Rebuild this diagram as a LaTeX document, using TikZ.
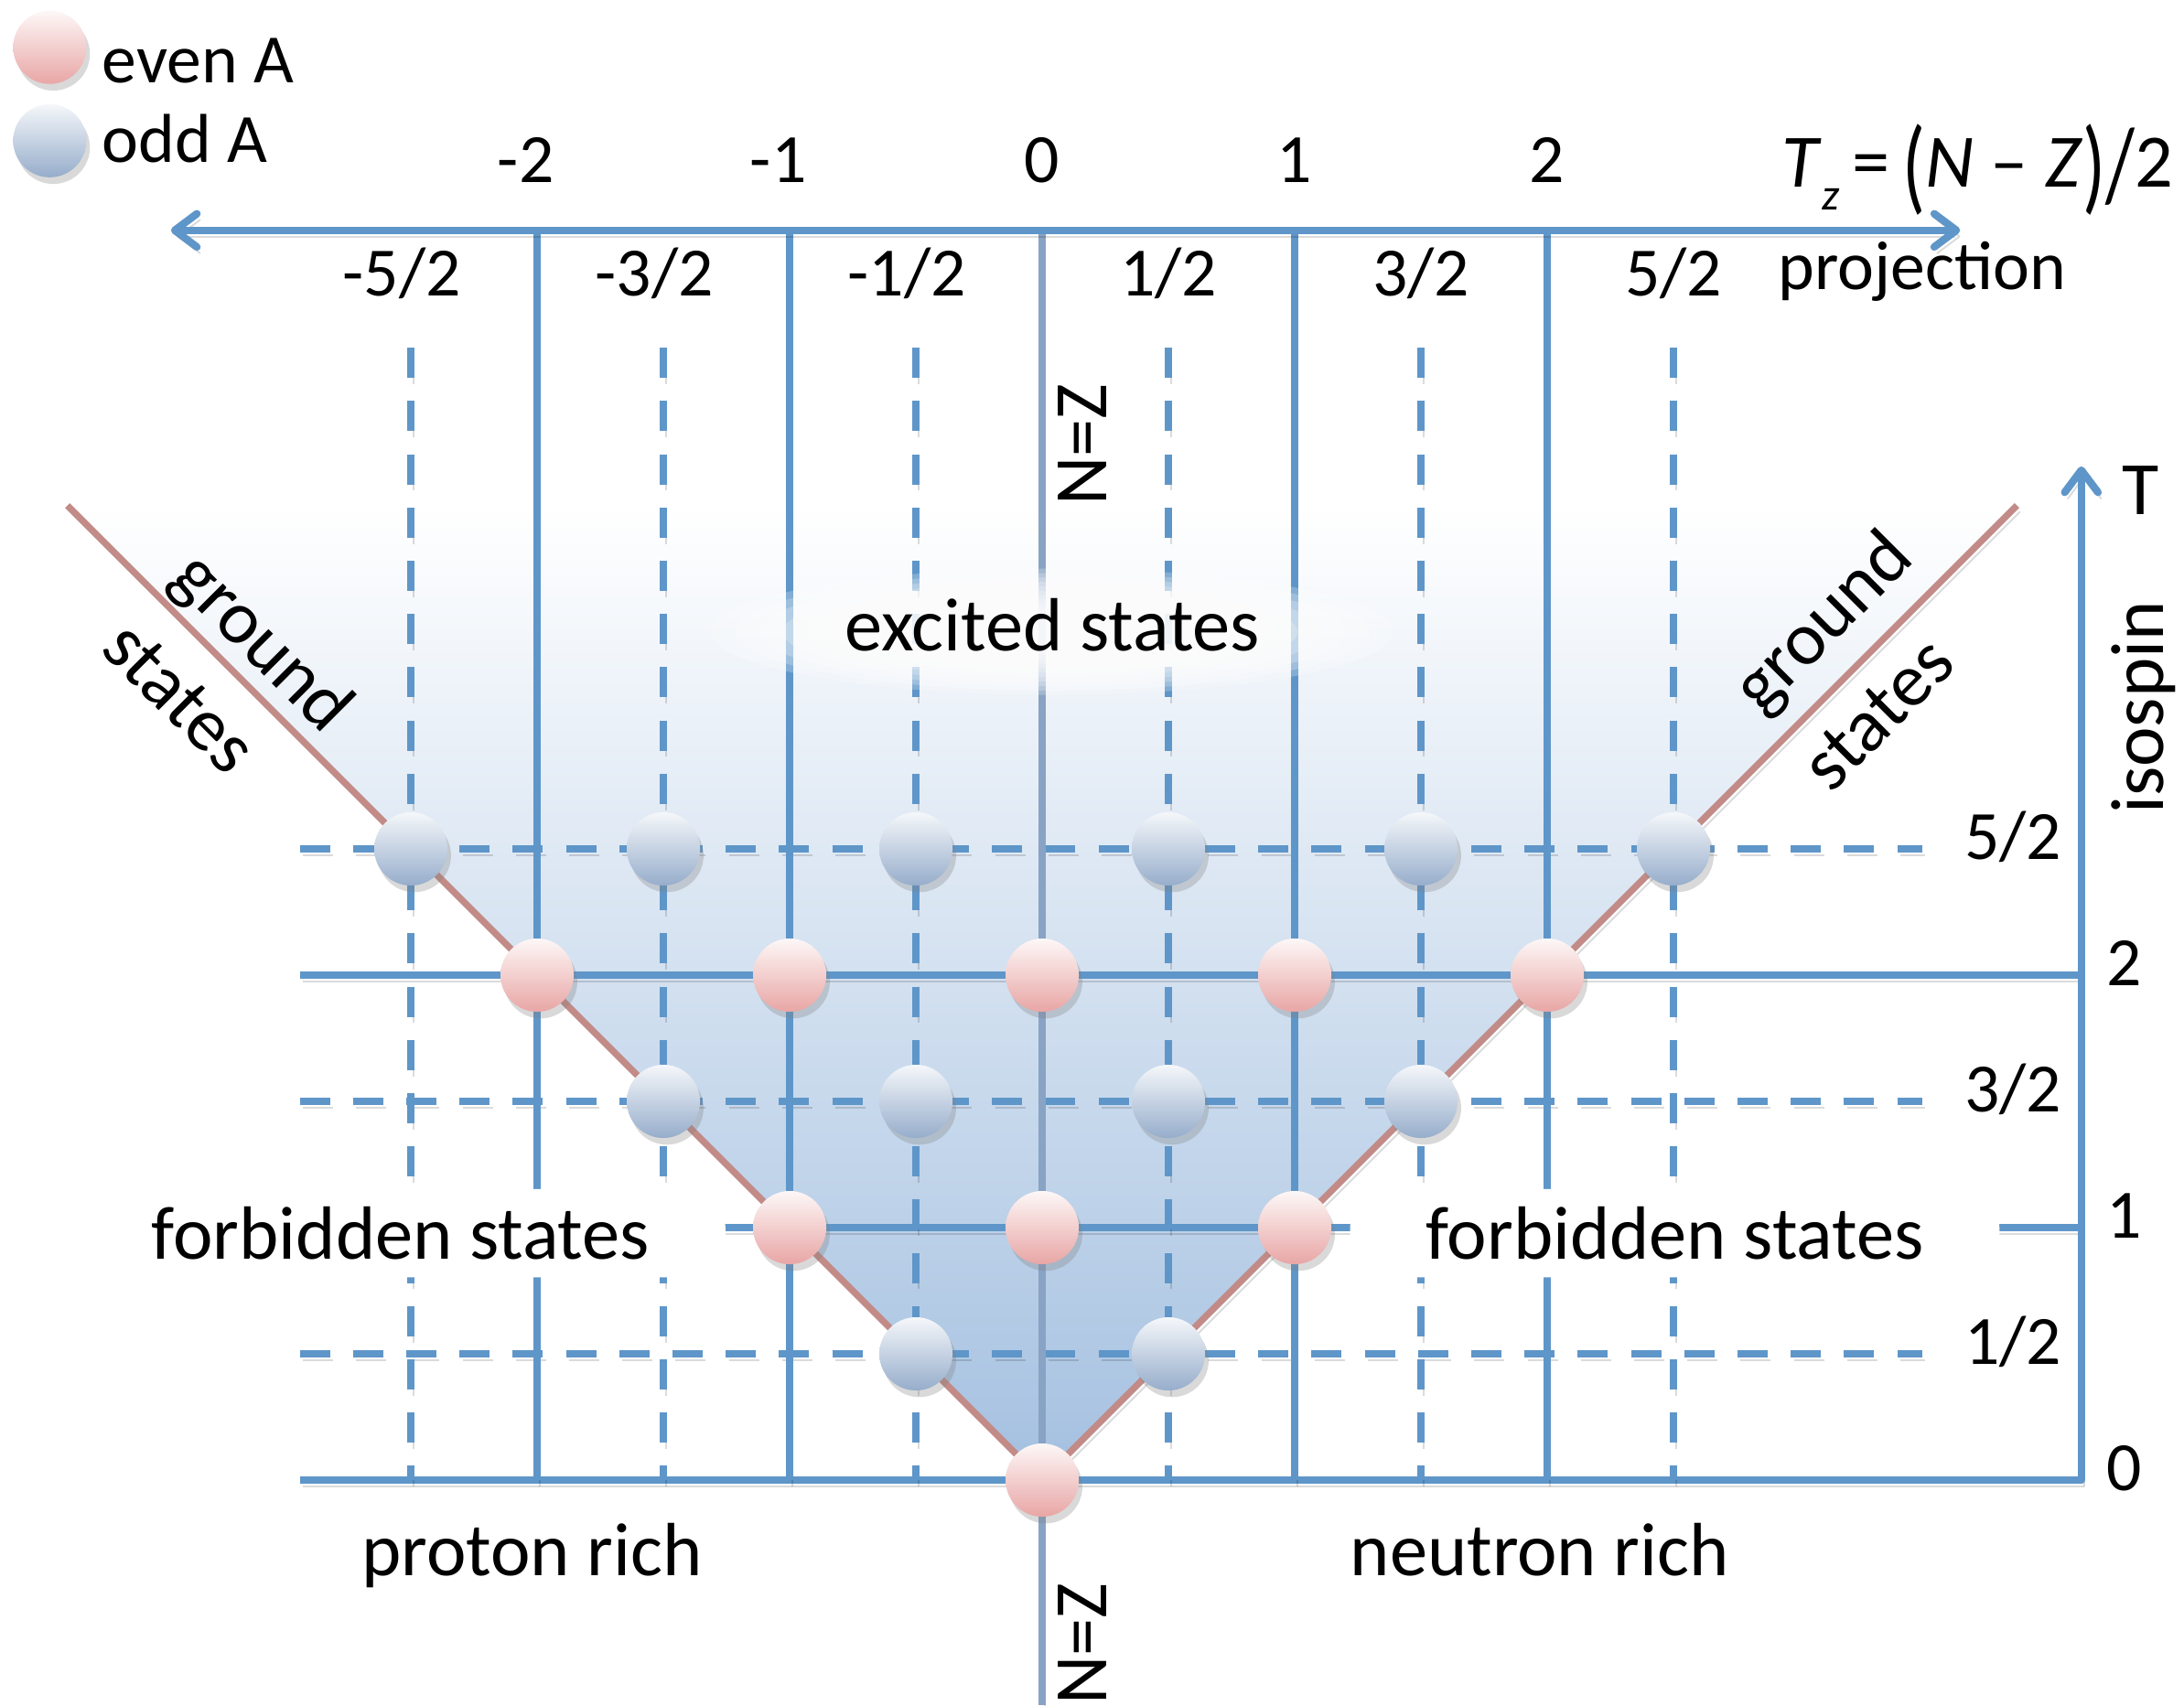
\documentclass[tikz,border=0pt]{standalone}
\usepackage{fontspec}
\setmainfont{Carlito}
\usepackage{graphicx}
\usetikzlibrary{arrows.meta, positioning, shadows}
\definecolor{gridblue}{HTML}{5F96C9}
\definecolor{nzblue}{HTML}{89A3C4}
\definecolor{gsred}{HTML}{C28B87}
\definecolor{wedgebg}{HTML}{A4C0E0}
\definecolor{evenlo}{HTML}{E8A6A5}
\definecolor{evenhi}{HTML}{FDF7F7}
\definecolor{oddlo}{HTML}{96ADCB}
\definecolor{oddhi}{HTML}{F5F7FA}
\tikzset{
  labl/.style={font=\fontsize{17}{20}\selectfont, inner sep=0pt, anchor=base},
  numlbl/.style={labl, font=\fontsize{15.6}{18}\selectfont},
  lnshadow/.style={preaction={draw=black, opacity=0.14,
                   transform canvas={xshift=0.7pt, yshift=-1.4pt}, #1}},
  lnshadow/.default={},
  gridln/.style={draw=gridblue, line width=1.7pt, lnshadow},
  griddash/.style={draw=gridblue, line width=1.7pt,
                   dash pattern=on 6.8pt off 5.2pt,
                   lnshadow={dash pattern=on 6.8pt off 5.2pt}},
  nzline/.style={draw=nzblue, line width=1.7pt, lnshadow},
  gsline/.style={draw=gsred, line width=1.5pt, lnshadow},
  axarr/.style={draw=gridblue, line width=1.7pt, line cap=round, lnshadow},
  ball/.style={circle, minimum size=0.58cm, inner sep=0pt,
               drop shadow={opacity=0.3, shadow xshift=0.8pt, shadow yshift=-1.5pt}},
  evenball/.style={ball, top color=evenhi, bottom color=evenlo},
  oddball/.style={ball, top color=oddhi, bottom color=oddlo},
  blob/.style={labl, fill=white, rounded corners=9pt,
               inner xsep=0.6cm, inner ysep=0.14cm},
}

\begin{document}
\begin{tikzpicture}
  \useasboundingbox (-8.254,-1.783) rectangle (9.043,11.725);

  %% Wedge between the ground-state lines
  \shade[top color=white, bottom color=wedgebg]
    (0,0) -- (-7.72,7.72) -- (7.72,7.72) -- cycle;

  %% Rows: integer T solid, half-integer T dashed
  \foreach \t in {0,2,4}
    \draw[gridln] (-5.88,\t) -- (8.23,\t);
  \foreach \t in {1,3,5}
    \draw[griddash] (-5.88,\t) -- (6.97,\t);

  %% Columns: T_z
  \foreach \z in {-4,-2,2,4}
    \draw[gridln] (\z,9.9) -- (\z,0);
  \foreach \z in {-5,-3,-1,1,3,5}
    \draw[griddash] (\z,8.97) -- (\z,0);
  \draw[nzline] (0,9.9) -- (0,-1.783);

  %% Ground-state lines
  \draw[gsline] (-7.72,7.72) -- (0,0) -- (7.72,7.72);

  %% Axes
  \coordinate (tzL) at (-6.9,9.9);
  \coordinate (tzR) at (7.27,9.9);
  \coordinate (tB) at (8.23,0);
  \coordinate (tT) at (8.23,8.03);
  \draw[axarr, {Straight Barb[length=5pt,width=7.5pt,round]}-{Straight Barb[length=5pt,width=7.5pt,round]}]
    (tzL) -- (tzR);
  \draw[axarr, -{Straight Barb[length=5pt,width=7.5pt,round]}] (tB) -- (tT);

  %% Glow behind excited states, white patches behind forbidden states
  \coordinate (glow) at (0.08,6.72);
  \foreach \s in {1.0,0.93,...,0.35}
    \fill[white, opacity=0.22] (glow) ellipse ({2.7*\s} and {0.5*\s});
  \node[blob] (forbL) at (-5.08,1.75) {forbidden states};
  \node[blob] (forbR) at (5.01,1.75) {forbidden states};

  %% States: even A on integer T, odd A on half-integer T
  \foreach \t/\zs in {0/{0}, 1/{-1,0,1}, 2/{-2,-1,0,1,2}}
    \foreach \z [count=\i] in \zs
      \node[evenball] (eb\t\i) at (2*\z,2*\t) {};
  \foreach \n/\ms in {1/{-1,1}, 3/{-3,-1,1,3}, 5/{-5,-3,-1,1,3,5}}
    \foreach \m [count=\i] in \ms
      \node[oddball] (ob\n\i) at (\m,\n) {};

  %% Legend
  \node[evenball] (legeven) at (-7.86,11.35) {};
  \node[oddball] (legodd) at (-7.86,10.61) {};
  \node[numlbl, anchor=base west] (legeventxt) at (-7.45,11.07) {even A};
  \node[numlbl, anchor=base west] (legoddtxt) at (-7.45,10.44) {odd A};

  %% T_z labels
  \foreach \k [count=\i] in {-2,...,2}
    \node[numlbl] (tzi\i) at ({2*\k-0.09*(\k<0)},10.28) {\k};
  \foreach \n [count=\i] in {-5,-3,-1,1,3,5}
    \node[numlbl] (tzh\i) at ({\n-0.07*(\n<0)},9.38) {\n/2};
  \node[labl] (tzform) at (7.41,10.24)
    {\textit{T}\raisebox{-5pt}{\fontsize{10}{10}\selectfont\textit{z}}\,=\,\raisebox{-3pt}{\scalebox{1}[1.39]{(}}\textit{N} – \textit{Z}\raisebox{-3pt}{\scalebox{1}[1.39]{)}}\raisebox{-3pt}{\scalebox{1}[1.39]{/}}2};
  \node[numlbl] (projlbl) at (6.97,9.43) {projection};

  %% T labels
  \foreach \n in {1,3,5}
    \node[numlbl] (th\n) at (7.69,\n-0.08) {\n/2};
  \foreach \t in {0,1,2}
    \node[numlbl] (ti\t) at (8.57,2*\t-0.08) {\t};
  \node[labl] (tlbl) at (8.70,7.65) {T};
  \node[labl, rotate=90] (isolbl) at (8.88,6.12) {isospin};

  %% Region labels
  \node[labl, rotate=90] (nztop) at (0.51,8.20) {N=Z};
  \node[labl, rotate=90] (nzbot) at (0.51,-1.30) {N=Z};
  \node[labl] (exclbl) at (0.08,6.57) {excited states};
  \node[labl] (prlbl) at (-4.04,-0.76) {proton rich};
  \node[labl] (nrlbl) at (3.94,-0.76) {neutron rich};
  \node[labl, anchor=center, rotate=-45] (gsl1) at (-6.19,6.62) {ground};
  \node[labl, anchor=center, rotate=-45] (gsl2) at (-6.83,6.20) {states};
  \node[labl, anchor=center, rotate=45] (gsr1) at (6.20,6.78) {ground};
  \node[labl, anchor=center, rotate=45] (gsr2) at (6.62,6.07) {states};

\end{tikzpicture}
\end{document}
